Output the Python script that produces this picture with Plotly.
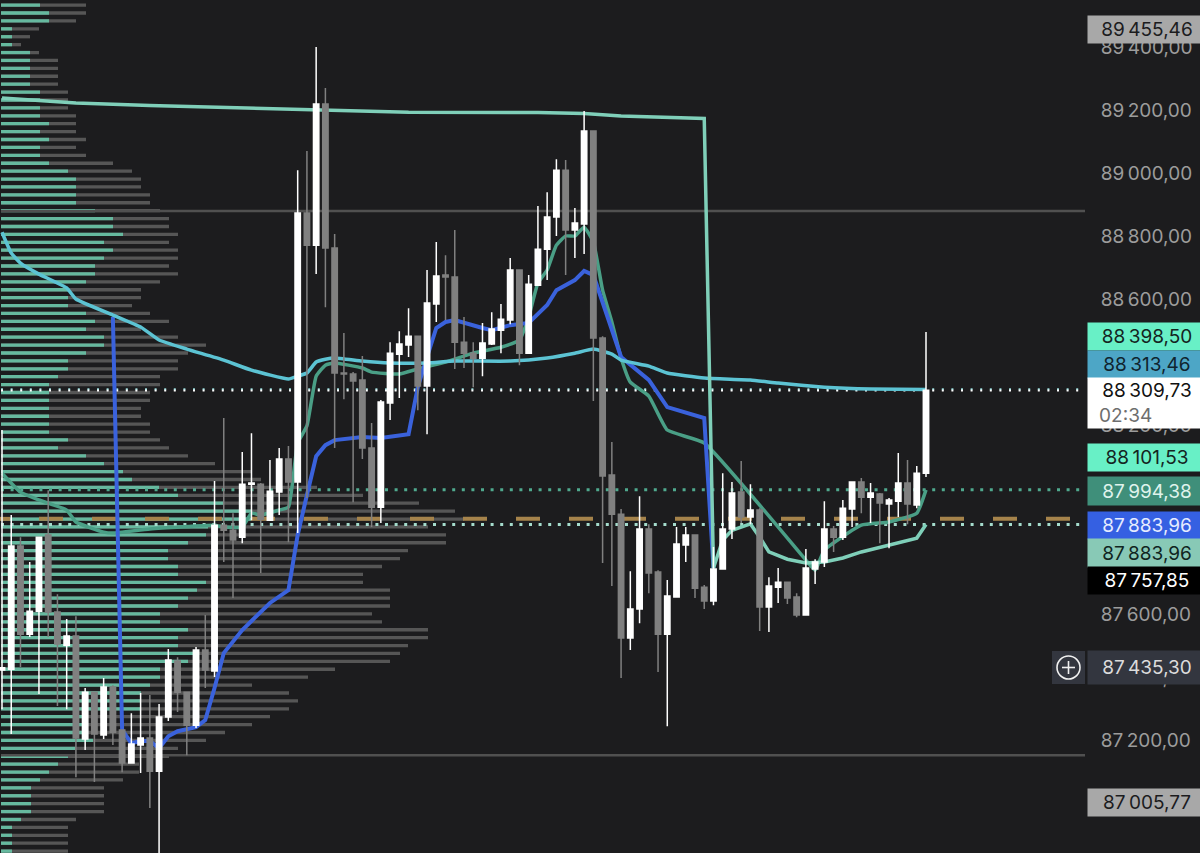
import plotly.graph_objects as go

# ---------- candles (in price units) ----------
highs = [88184,87914,87844,87765,87844,87993,87663,87584,87593,87365,
         87352,87397,87374,87232,87285,87349,87343,87314,87489,87463,
         87352,87495,87597,88022,88222,87920,88114,88174,88016,88089,
         88127,88133,89009,89070,89400,89270,88806,88492,88368,88419,
         88206,88279,88463,88498,88571,88482,88692,88781,88739,88819,
         88543,88463,88524,88558,88584,88730,88692,88676,88895,88939,
         89044,89041,88889,89197,89133,88482,88146,87933,87736,87974,
         87885,87739,87708,87876,87876,87851,87692,87813,88047,88019,
         88086,88012,87936,87717,87746,87701,87666,87806,87774,87958,
         87879,87962,88019,88032,88016,87984,87968,88111,88089,88070,
         88495]
lows = [87298,87219,87432,87527,87346,87527,87308,87298,87082,87168,
        87067,87203,87184,87098,87127,87095,86984,86835,87260,87289,
        87152,87238,87365,87400,87765,87651,87825,87898,87730,87895,
        87914,87828,87857,87968,88679,88574,88127,88282,87955,88092,
        87876,87889,88216,88286,88416,88247,88171,88527,88533,88378,
        88381,88320,88355,88454,88428,88520,88390,88428,88644,88660,
        88800,88676,88730,88743,88276,87762,87689,87397,87486,87571,
        87666,87416,87244,87654,87765,87651,87616,87628,87743,87838,
        87889,87885,87546,87543,87635,87632,87590,87597,87695,87749,
        87797,87835,87876,87920,87889,87825,87809,87908,87885,87936,
        88035]
# body top / bottom; direction says which is the close
body_top = [87429,87816,87816,87609,87844,87851,87606,87530,87530,87352,
            87352,87368,87368,87232,87187,87206,87206,87273,87454,87451,
            87352,87486,87486,87882,87882,87866,88012,88016,88012,87990,
            88092,88092,88873,88873,89219,89219,88762,88365,88362,88343,
            88127,88273,88428,88457,88482,88482,88587,88673,88676,88670,
            88463,88428,88460,88505,88536,88692,88692,88647,88758,88860,
            89009,89009,88841,89133,89133,88476,88041,87917,87616,87870,
            87870,87733,87657,87822,87851,87851,87685,87743,87870,87984,
            87987,87930,87930,87689,87701,87701,87654,87746,87765,87870,
            87870,87936,88019,88019,87984,87981,87962,88016,88016,88047,
            88310]
body_bottom = [87422,87425,87536,87536,87609,87606,87505,87501,87206,87203,
               87219,87216,87225,87127,87127,87184,87101,87101,87273,87352,
               87247,87247,87422,87419,87866,87835,87844,88012,87901,87898,
               87987,88019,88019,88771,88771,88762,88365,88362,88340,88127,
               87939,87939,88270,88425,88454,88324,88324,88584,88670,88463,
               88428,88412,88412,88457,88501,88533,88428,88428,88644,88758,
               88860,88819,88819,88838,88476,88038,87917,87524,87524,87616,
               87730,87536,87536,87654,87819,87682,87641,87641,87743,87870,
               87908,87908,87622,87622,87685,87651,87597,87597,87743,87765,
               87844,87844,87933,87971,87971,87952,87949,87958,87949,87946,
               88047]
rising = [1,1,0,1,1,0,0,1,0,1,
          0,1,0,0,1,1,0,1,1,0,
          0,1,0,1,0,0,1,1,0,1,
          1,0,1,0,1,0,0,0,0,0,
          0,1,1,1,1,0,1,1,0,0,
          0,0,1,1,1,1,0,1,1,1,
          1,0,1,1,0,0,0,0,1,1,
          0,0,1,1,1,0,0,1,1,1,
          0,1,0,1,1,0,0,1,1,1,
          0,1,1,0,1,0,1,1,0,1,
          1]

# ---------- indicator lines ----------
top_band_i = [0,8,16,24,32,44,58,63,67,76,77,78,79,81,82,83,85,87,89,91,93,95,97,99,100]
top_band_p = [89238,89222,89214,89208,89200,89193,89192,89189,89181,89173,87746,87835,87866,87886,
              87844,87797,87774,87762,87765,87778,87797,87812,87828,87841,87884]

cyan_i = [0,1,2,4,7,8,12,15,17,20,24,27,31,32,33,34,35,36,39,42,46,49,55,59,62,64,66,67,70,72,76,81,84,89,94,100]
cyan_p = [88812,88746,88714,88679,88635,88600,88549,88511,88470,88441,88406,88374,88346,88355,88365,88400,
          88409,88413,88403,88397,88397,88403,88403,88413,88428,88441,88425,88406,88387,88365,88349,88343,
          88333,88320,88314,88313]

green_i = [0,2,4,7,8,11,12,16,23,24,26,27,28,30,31,32,33,34,35,36,39,40,43,45,48,51,54,56,57,58,59,60,61,62,
           63,64,65,66,67,68,70,72,76,87,88,89,93,96,99,100]
green_p = [88047,87987,87962,87930,87892,87860,87857,87870,87882,87876,87876,87920,87914,87930,87939,88143,
           88197,88355,88390,88397,88381,88368,88362,88378,88400,88428,88447,88470,88543,88651,88692,88771,
           88800,88800,88828,88781,88628,88527,88413,88336,88292,88184,88143,87771,87739,87803,87882,87892,
           87920,87994]

blue_i = [12,13,14,15,16,17,18,19,21,22,23,24,26,29,31,32,33,34,35,36,39,41,44,45,46,47,48,49,52,53,55,57,59,
          60,62,63,64,65,67,70,72,76,77]
blue_p = [88543,87232,87190,87197,87197,87174,87212,87228,87241,87263,87365,87476,87549,87635,87676,87851,87978,
          88101,88136,88152,88162,88159,88171,88320,88416,88508,88527,88533,88508,88501,88517,88524,88581,
          88628,88660,88689,88676,88587,88416,88343,88257,88222,87746]

# ---------- volume profile, top row to bottom row ----------
profile_levels = [89533 - 25.1 * row for row in range(108)]  # fixed 25-point price bins
volume_buy = [39,48,48,11,11,11,29,29,29,29,29,39,39,39,39,48,39,48,39,39,
              48,67,75,75,75,75,94,112,112,122,103,112,103,94,94,85,67,67,67,85,
              94,85,103,103,85,67,67,57,48,48,48,48,48,48,48,67,57,85,103,122,
              131,158,177,223,250,250,207,205,187,167,167,177,177,205,196,187,177,159,159,187,
              177,177,192,187,159,159,149,140,140,140,83,83,83,92,74,67,57,48,39,30,
              30,30,30,20,11,11,11,11]
volume_total = [85,85,75,38,29,20,38,57,57,57,57,67,67,67,75,75,75,85,75,85,
                112,131,140,140,149,149,159,168,168,177,168,177,177,168,177,159,140,140,131,149,
                168,140,177,205,187,177,177,159,159,149,149,140,140,149,149,159,168,187,214,250,
                260,316,362,418,454,463,427,445,445,407,399,381,362,362,389,389,389,371,381,427,
                427,407,399,389,334,307,251,288,297,288,269,251,224,205,177,168,138,138,122,103,
                103,103,103,75,67,67,67,67]

# ---------- price levels and axis text ----------
tick_values = [89400,89200,89000,88800,88600,88400,88200,88000,87800,87600,87400,87200,87000]
tick_labels = ["89\u2009400,00","89\u2009200,00","89\u2009000,00","88\u2009800,00","88\u2009600,00",
               "88\u2009400,00","88\u2009200,00","88\u2009000,00","87\u2009800,00","87\u2009600,00",
               "87\u2009400,00","87\u2009200,00","87\u2009000,00"]
resistance_level = 88879
support_level = 87152
poc_level = 87902
last_price = 88309.73
cyan_level = 88313.46
green_level = 87994.38
band_level = 87883.96

tag_texts = ["89\u2009455,46","88\u2009398,50","88\u2009313,46",
             "88\u2009309,73<br><span style='color:#6e6e6e'>02:34" + "\u00a0" * 8 + "</span>",
             "88\u2009101,53","87\u2009994,38","87\u2009883,96","87\u2009883,96","87\u2009757,85",
             "87\u2009435,30","87\u2009005,77"]

# ---------- styling ----------
W, H = 1200, 853
PLOT_W = 1085
BG = "#1c1c1e"
FONT = "Inter, Roboto, sans-serif"
FONT_SIZE = 19
tag_centre_px = [29.5,336.5,364.5,403,457.5,491,525.5,553,580.5,667.5,802.5]
tag_height_px = [27,27,27,50,27,28,27,28,27,33,27]
tag_fill = ["#a8a8a8","#68f0c6","#4da6c6","#ffffff","#68f0c6","#3f8f7a","#3560e2","#88c9b6","#000000","#33363f","#a8a8a8"]
tag_ink = ["#1c1c1e","#14251f","#10242e","#111111","#14251f","#dff3ec","#e6ecff","#10251f","#ffffff","#dcdcdc","#1c1c1e"]

fig = go.Figure()

common_bar = dict(orientation="h", y=profile_levels, width=10.5, xaxis="x", yaxis="y",
                  marker_line_width=0, hoverinfo="skip", showlegend=False)
fig.add_trace(go.Bar(x=volume_total, marker_color="#565656", **common_bar))
fig.add_trace(go.Bar(x=volume_buy, marker_color="#66b99f", **common_bar))


def level_line(price, color, width, dash, x0=0, x1=PLOT_W):
    fig.add_trace(go.Scatter(x=[x0, x1], y=[price, price], mode="lines", xaxis="x", yaxis="y",
                             line=dict(color=color, width=width, dash=dash),
                             hoverinfo="skip", showlegend=False))


level_line(resistance_level, "#505050", 2.5, "solid")
level_line(support_level, "#505050", 2.5, "solid")
level_line(poc_level, "#a5834b", 4, "solid", -1, 9)
level_line(poc_level, "#a5834b", 4, "24px,29px", 38)
level_line(cyan_level, "#8fd6d6", 2, "2px,7.6px")
level_line(last_price, "#ffffff", 2, "2px,7.6px")
level_line(green_level, "#4fa98e", 3, "3px,6.6px")
level_line(band_level, "#a5dccd", 3, "3px,6.6px")


def indicator(xs, ys, color, width, shape="linear"):
    line = dict(color=color, width=width, shape=shape)
    if shape == "spline":
        line["smoothing"] = 0.4
    fig.add_trace(go.Scatter(x=xs, y=ys, mode="lines", xaxis="x2", yaxis="y", line=line,
                             hoverinfo="skip", showlegend=False))


indicator(green_i, green_p, "#4a9f86", 3.5, "spline")
indicator(blue_i, blue_p, "#3a62dc", 4)
indicator(cyan_i, cyan_p, "#5cc3d3", 3.5, "spline")
indicator(top_band_i, top_band_p, "#7fcfb9", 3.5)

opens = [b if r else t for t, b, r in zip(body_top, body_bottom, rising)]
closes = [t if r else b for t, b, r in zip(body_top, body_bottom, rising)]
fig.add_trace(go.Candlestick(x=list(range(len(highs))), open=opens, high=highs, low=lows, close=closes,
                             xaxis="x3", yaxis="y", whiskerwidth=0,
                             increasing=dict(line=dict(color="#ffffff", width=1.5), fillcolor="#ffffff"),
                             decreasing=dict(line=dict(color="#808080", width=1.5), fillcolor="#808080"),
                             hoverinfo="skip", showlegend=False))

# candle index -> pixel: 2 + 9.24 * index
index_range = [-2 / 9.24, (PLOT_W - 2) / 9.24]
hidden = dict(visible=False, showgrid=False, zeroline=False, fixedrange=True)

annotations = []
for text, cy, h, fill, ink in zip(tag_texts, tag_centre_px, tag_height_px, tag_fill, tag_ink):
    annotations.append(dict(xref="paper", yref="paper", x=(1087) / PLOT_W, y=1 - cy / H,
                            xanchor="left", yanchor="middle", text=text, showarrow=False,
                            width=118, height=h, bgcolor=fill, borderpad=0, align="center",
                            font=dict(family=FONT, size=FONT_SIZE, color=ink)))

px = lambda v: v / PLOT_W
py = lambda v: 1 - v / H
shapes = [
    dict(type="rect", xref="paper", yref="paper", x0=px(1052), x1=px(1085), y0=py(651), y1=py(684),
         fillcolor="#33363f", line_width=0, layer="above"),
    dict(type="circle", xref="paper", yref="paper", x0=px(1057), x1=px(1080), y0=py(656), y1=py(679),
         line=dict(color="#f0f0f0", width=1.6), layer="above"),
    dict(type="line", xref="paper", yref="paper", x0=px(1062), x1=px(1075), y0=py(667.5), y1=py(667.5),
         line=dict(color="#f0f0f0", width=1.6), layer="above"),
    dict(type="line", xref="paper", yref="paper", x0=px(1068.5), x1=px(1068.5), y0=py(661), y1=py(674),
         line=dict(color="#f0f0f0", width=1.6), layer="above"),
]

fig.update_layout(
    width=W, height=H, autosize=False,
    margin=dict(l=0, r=W - PLOT_W, t=0, b=0, pad=0),
    paper_bgcolor=BG, plot_bgcolor=BG,
    barmode="overlay", boxgap=0.42, boxgroupgap=0, showlegend=False, hovermode=False,
    font=dict(family=FONT, size=FONT_SIZE, color="#9c9c9c"),
    xaxis=dict(range=[-1, PLOT_W - 1], **hidden),
    xaxis2=dict(range=index_range, overlaying="x", anchor="y", **hidden),
    xaxis3=dict(range=index_range, overlaying="x", anchor="y", rangeslider=dict(visible=False), **hidden),
    yaxis=dict(range=[86841.3, 89549.2], side="right", showgrid=False, zeroline=False, showline=False,
               tickvals=tick_values, ticktext=tick_labels, ticks="outside", ticklen=11,
               tickcolor="rgba(0,0,0,0)", tickfont=dict(family=FONT, size=FONT_SIZE, color="#9c9c9c"), fixedrange=True),
    annotations=annotations, shapes=shapes,
)
fig.write_html("out.html", config=dict(displayModeBar=False),
               post_script="document.body.style.margin='0';document.documentElement.style.overflow='hidden';document.body.style.background='#1c1c1e';")
